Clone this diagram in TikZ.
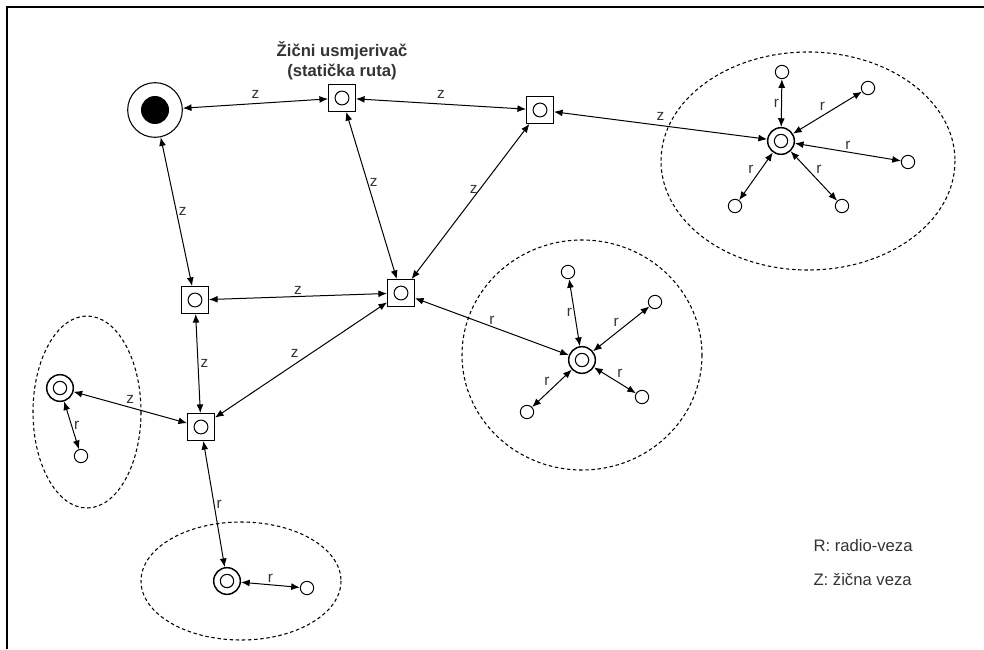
\documentclass[tikz,border=0pt]{standalone}
\usepackage{fontspec}
\setmainfont{Liberation Sans}
\usetikzlibrary{arrows.meta,positioning}

\begin{document}
\begin{tikzpicture}[x=0.75pt,y=-0.75pt,>={Latex[length=6.5pt,width=5.2pt]},line width=0.75pt,
		txt/.style={text=black!80,font=\fontsize{11.5}{13}\selectfont,inner sep=1.5pt},
		router/.style={draw,line width=0.9pt,rectangle,minimum size=20pt,inner sep=0pt,
			path picture={\draw[line width=0.75pt] (path picture bounding box.center) circle (5.2pt);}},
		hub/.style={draw,line width=1.1pt,circle,minimum size=20pt,inner sep=0pt,
			path picture={\draw[line width=0.8pt] (path picture bounding box.center) circle (5pt);}},
		leaf/.style={draw,line width=0.75pt,circle,minimum size=10pt,inner sep=0pt},
		source/.style={draw,line width=0.8pt,circle,minimum size=41pt,inner sep=0pt,
			path picture={\fill (path picture bounding box.center) circle (10.5pt);}},
		zone/.style={dashed,dash pattern=on 2.6pt off 2pt,line width=0.8pt}]
	\useasboundingbox (0,0) rectangle (984,649);
	\draw[line width=1.1pt] (7,649) -- (7,7) -- (984,7);
	
	\draw[zone] (808,161) ellipse [x radius=147, y radius=109];
	\draw[zone] (582,355) ellipse [x radius=120, y radius=115];
	\draw[zone] (87,412) ellipse [x radius=54, y radius=96];
	\draw[zone] (241,581) ellipse [x radius=100, y radius=59];
	
	\node[source] (src) at (155,110) {};
	\node[router] (r1) at (342,98) {};
	\node[router] (r2) at (540,110) {};
	\node[router] (r3) at (401,293) {};
	\node[router] (r4) at (195,300) {};
	\node[router] (r5) at (201,427) {};
	\node[txt,font=\fontsize{12.5}{15}\selectfont\bfseries,align=center,above=1pt of r1] (title) {Žični usmjerivač\\(statička ruta)};
	
	\node[hub] (h1) at (781,141) {};
	\node[leaf] (h1a) at (782,72) {};
	\node[leaf] (h1b) at (868,88) {};
	\node[leaf] (h1c) at (908,162) {};
	\node[leaf] (h1d) at (842,206) {};
	\node[leaf] (h1e) at (735,206) {};
	
	\node[hub] (h2) at (582,360) {};
	\node[leaf] (h2a) at (568,272) {};
	\node[leaf] (h2b) at (655,302) {};
	\node[leaf] (h2c) at (642,397) {};
	\node[leaf] (h2d) at (527,412) {};
	
	\node[hub] (h3) at (60,388) {};
	\node[leaf] (h3a) at (81,456) {};
	\node[hub] (h4) at (227,581) {};
	\node[leaf] (h4a) at (307,588) {};
	
	\draw[<->] (src) -- (r1) node[txt,midway,above=2pt] {z};
	\draw[<->] (r1) -- (r2) node[txt,midway,above=2pt] {z};
	\draw[<->] (r2) -- (h1) node[txt,midway,above=2pt] {z};
	\draw[<->] (src) -- (r4) node[txt,midway,right] {z};
	\draw[<->] (r1) -- (r3) node[txt,pos=0.42,right] {z};
	\draw[<->] (r2) -- (r3) node[txt,pos=0.42,left] {z};
	\draw[<->] (r4) -- (r3) node[txt,midway,above] {z};
	\draw[<->] (r4) -- (r5) node[txt,midway,right] {z};
	\draw[<->] (r5) -- (r3) node[txt,midway,above left] {z};
	\draw[<->] (h3) -- (r5) node[txt,midway,above=1pt] {z};
	\draw[<->] (r3) -- (h2) node[txt,midway,above] {r};
	\draw[<->] (r5) -- (h4) node[txt,midway,right] {r};
	\draw[<->] (h3) -- (h3a) node[txt,midway,right] {r};
	\draw[<->] (h4) -- (h4a) node[txt,midway,above] {r};
	
	\foreach \leaf/\side in {h1a/left,h1b/above left,h1c/above,h1d/above right,h1e/above left}
		\draw[<->] (h1) -- (\leaf) node[txt,midway,\side] {r};
	\foreach \leaf/\side in {h2a/left,h2b/above left,h2c/above right,h2d/above left}
		\draw[<->] (h2) -- (\leaf) node[txt,midway,\side] {r};
	
	\node[txt,font=\fontsize{12.5}{14}\selectfont,anchor=west] (leg1) at (811,546) {R: radio-veza};
	\node[txt,font=\fontsize{12.5}{14}\selectfont,anchor=west] (leg2) at (811,580) {Z: žična veza};
\end{tikzpicture}
\end{document}
